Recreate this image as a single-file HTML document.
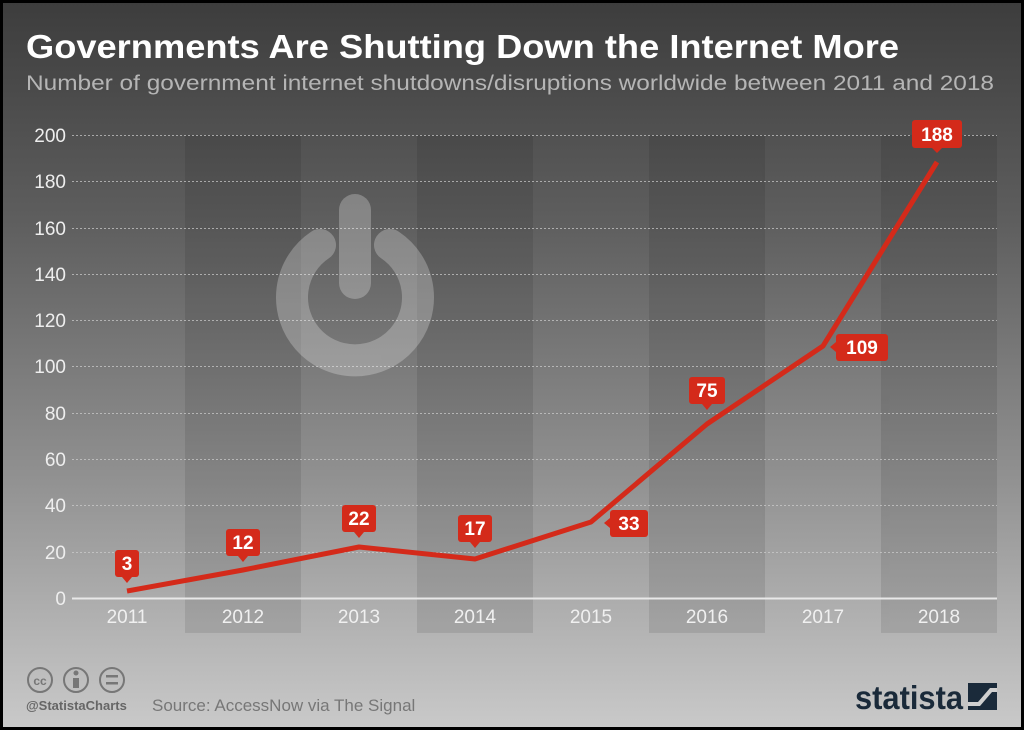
<!DOCTYPE html>
<html><head><style>
html,body{margin:0;padding:0;}
body{width:1024px;height:730px;overflow:hidden;background:#000;}
#c{position:absolute;left:3px;top:3px;width:1018px;height:724px;background:linear-gradient(#3d3d3d 0%,#5e5e5e 30%,#909090 65%,#c9c9c9 100%);}
text{font-family:"Liberation Sans",sans-serif;}
</style></head><body>
<div id="c"></div>
<svg width="1024" height="730" style="position:absolute;left:0;top:0">
<g fill="#000" opacity="0.09">
<rect x="185" y="135" width="116" height="498"/>
<rect x="417" y="135" width="116" height="498"/>
<rect x="649" y="135" width="116" height="498"/>
<rect x="881" y="135" width="116" height="498"/>
</g>
<g stroke="#cfcfcf" stroke-width="1" stroke-dasharray="2,2" opacity="0.7">
<line x1="72" x2="997" y1="135.5" y2="135.5"/><line x1="72" x2="997" y1="181.5" y2="181.5"/>
<line x1="72" x2="997" y1="228.5" y2="228.5"/><line x1="72" x2="997" y1="274.5" y2="274.5"/>
<line x1="72" x2="997" y1="320.5" y2="320.5"/><line x1="72" x2="997" y1="366.5" y2="366.5"/>
<line x1="72" x2="997" y1="413.5" y2="413.5"/><line x1="72" x2="997" y1="459.5" y2="459.5"/>
<line x1="72" x2="997" y1="505.5" y2="505.5"/><line x1="72" x2="997" y1="552.5" y2="552.5"/>
</g>
<line x1="72" x2="997" y1="598.5" y2="598.5" stroke="#e8e8e8" stroke-width="2"/>
<g fill="none" stroke="#fff" opacity="0.25" stroke-linecap="round">
<path d="M320 245 A63 63 0 1 0 390 245" stroke-width="32"/>
<line x1="355" y1="210" x2="355" y2="283" stroke-width="32"/>
</g>
<g fill="#eeeeee" font-size="19" text-anchor="end">
<text x="66" y="142">200</text><text x="66" y="188">180</text><text x="66" y="235">160</text>
<text x="66" y="281">140</text><text x="66" y="327">120</text><text x="66" y="373">100</text>
<text x="66" y="420">80</text><text x="66" y="466">60</text><text x="66" y="512">40</text>
<text x="66" y="559">20</text><text x="66" y="605">0</text>
</g>
<g fill="#f0f0f0" font-size="19" text-anchor="middle">
<text x="127" y="623">2011</text><text x="243" y="623">2012</text><text x="359" y="623">2013</text>
<text x="475" y="623">2014</text><text x="591" y="623">2015</text><text x="707" y="623">2016</text>
<text x="823" y="623">2017</text><text x="939" y="623">2018</text>
</g>
<polyline points="127,591 243,570 359,547 475,559 591,522 707,424 823,346 937,162" fill="none" stroke="#d42a1a" stroke-width="5" stroke-linejoin="round"/>
<g fill="#d42a1a">
<rect x="115" y="550" width="24" height="27" rx="3"/><path d="M122 577 L127 583 L132 577Z"/>
<rect x="226" y="529" width="34" height="27" rx="3"/><path d="M238 556 L243 562 L248 556Z"/>
<rect x="342" y="505" width="34" height="27" rx="3"/><path d="M354 532 L359 538 L364 532Z"/>
<rect x="458" y="515" width="34" height="27" rx="3"/><path d="M470 542 L475 548 L480 542Z"/>
<rect x="610" y="510" width="38" height="27" rx="3"/><path d="M610 518 L604 523 L610 528Z"/>
<rect x="689" y="377" width="36" height="27" rx="3"/><path d="M702 404 L707 410 L712 404Z"/>
<rect x="836" y="334" width="52" height="27" rx="3"/><path d="M836 342 L830 347 L836 352Z"/>
<rect x="912" y="120" width="50" height="28" rx="3"/><path d="M932 148 L937 153 L942 148Z"/>
</g>
<g fill="#fff" font-size="19" font-weight="bold" text-anchor="middle">
<text x="127" y="570">3</text><text x="243" y="549">12</text><text x="359" y="525">22</text>
<text x="475" y="535">17</text><text x="629" y="530">33</text><text x="707" y="397">75</text>
<text x="862" y="354">109</text><text x="937" y="141">188</text>
</g>
<text x="26" y="58" fill="#fff" font-size="33" font-weight="bold" textLength="873" lengthAdjust="spacingAndGlyphs">Governments Are Shutting Down the Internet More</text>
<text x="26" y="90" fill="#b5b5b5" font-size="21" textLength="968" lengthAdjust="spacingAndGlyphs">Number of government internet shutdowns/disruptions worldwide between 2011 and 2018</text>
<g fill="none" stroke="#777" stroke-width="2">
<circle cx="40" cy="680" r="12"/><circle cx="76" cy="680" r="12"/><circle cx="112" cy="680" r="12"/>
</g>
<text x="40" y="685" fill="#777" font-size="12" font-weight="bold" text-anchor="middle">cc</text>
<rect x="73" y="678" width="6" height="10" fill="#777"/><circle cx="76" cy="673" r="2.5" fill="#777"/>
<rect x="106" y="675" width="12" height="2.5" fill="#777"/><rect x="106" y="682" width="12" height="2.5" fill="#777"/>
<text x="26" y="710" fill="#666" font-size="13" font-weight="bold">@StatistaCharts</text>
<text x="152" y="711" fill="#777" font-size="17">Source: AccessNow via The Signal</text>
<text x="855" y="709" fill="#1a2a3a" font-size="33" font-weight="bold" textLength="108" lengthAdjust="spacingAndGlyphs">statista</text>
<rect x="968" y="683" width="29" height="27" fill="#1a2a3a"/>
<path d="M968 702 L978 702 L990 688 L997 688 L997 692 L992 692 L980 706 L968 706Z" fill="#cfcfcf"/>
</svg>
</body></html>
